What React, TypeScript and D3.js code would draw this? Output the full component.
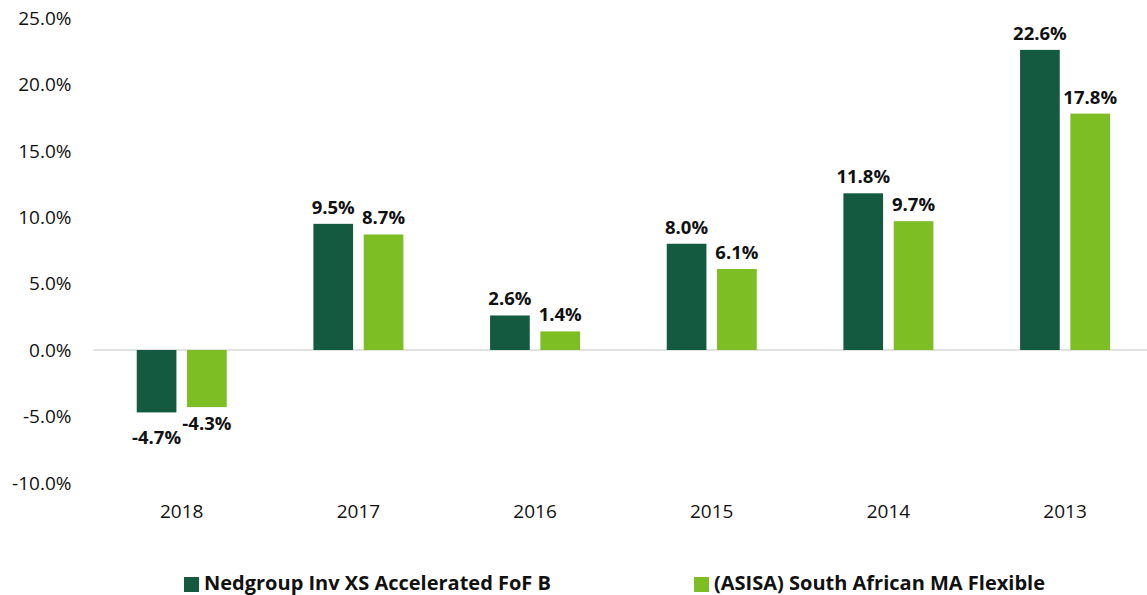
import React from "react";
import * as d3 from "d3";

const categories = ["2018", "2017", "2016", "2015", "2014", "2013"];
const seriesNames = ["Nedgroup Inv XS Accelerated FoF B", "(ASISA) South African MA Flexible"];
const fundValues = [-4.7, 9.5, 2.6, 8.0, 11.8, 22.6];
const sectorValues = [-4.3, 8.7, 1.4, 6.1, 9.7, 17.8];
const yTicks = [-10, -5, 0, 5, 10, 15, 20, 25];
const colors = ["#145A40", "#7CBE24"];

const W = 1147;
const H = 595;
const FONT = "'Open Sans', sans-serif";
const fmt = (v: number) => d3.format(".1f")(v).replace("\u2212", "-") + "%";

export default function App() {
  const y = d3.scaleLinear().domain([-10, 25]).range([482.8, 18]);
  const x0 = d3.scaleBand<string>().domain(categories).range([93.4, 1153.4]).paddingInner(0).paddingOuter(0);
  const groupW = 90;
  const x1 = d3
    .scaleBand<string>()
    .domain(seriesNames)
    .range([x0.bandwidth() / 2 - groupW / 2, x0.bandwidth() / 2 + groupW / 2])
    .paddingInner(0.211)
    .paddingOuter(0);
  const series = [fundValues, sectorValues];

  return (
    <svg width={W} height={H} style={{ position: "absolute", left: 0, top: 0, background: "#fff" }}>
      {yTicks.map((t) => (
        <text
          key={t}
          x={71.5}
          y={y(t)}
          dy="0.36em"
          textAnchor="end"
          fontFamily={FONT}
          fontSize={19}
          fill="#111"
        >
          {fmt(t)}
        </text>
      ))}
      <line x1={93.4} x2={W} y1={y(0)} y2={y(0)} stroke="#d9d9d9" strokeWidth={1.5} />
      {categories.map((c, i) => (
        <g key={c} transform={`translate(${x0(c)},0)`}>
          {seriesNames.map((s, j) => {
            const v = series[j][i];
            const top = y(Math.max(0, v));
            const bot = y(Math.min(0, v));
            const bx = x1(s)!;
            const bw = x1.bandwidth();
            const cx = bx + bw / 2;
            let ly: number;
            if (v >= 0) ly = top - 10;
            else ly = bot + 10 + 13 + (j === 0 ? 9 : 0);
            return (
              <g key={s}>
                <rect x={bx} y={top} width={bw} height={bot - top} fill={colors[j]} />
                <text
                  x={cx}
                  y={ly}
                  textAnchor="middle"
                  fontFamily={FONT}
                  fontWeight="bold"
                  fontSize={18.5}
                  fill="#111"
                >
                  {fmt(v)}
                </text>
              </g>
            );
          })}
          <text
            x={x0.bandwidth() / 2}
            y={518}
            textAnchor="middle"
            fontFamily={FONT}
            fontSize={19}
            fill="#111"
          >
            {c}
          </text>
        </g>
      ))}
      {seriesNames.map((s, j) => {
        const lx = j === 0 ? 184 : 694;
        return (
          <g key={s}>
            <rect x={lx} y={577} width={15} height={15} fill={colors[j]} />
            <text x={lx + 20} y={589.5} fontFamily={FONT} fontWeight="bold" fontSize={20} fill="#111">
              {s}
            </text>
          </g>
        );
      })}
    </svg>
  );
}
